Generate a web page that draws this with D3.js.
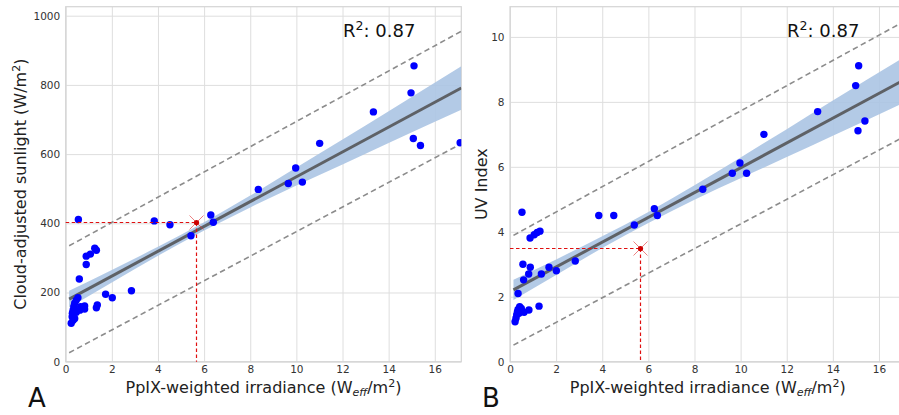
<!DOCTYPE html>
<html>
<head>
<meta charset="utf-8">
<script src="https://cdn.jsdelivr.net/npm/d3@7"></script>
<style>
  body { margin: 0; background: #fff; }
  svg { display: block; font-family: "DejaVu Sans", sans-serif; }
</style>
</head>
<body>
<div id="canvas"></div>
<script>
// values
const xTicks = [0, 2, 4, 6, 8, 10, 12, 14, 16]
const xMax = 17.15

// panel A: cloud-adjusted sunlight
const sunX = [0.24, 0.28, 0.29, 0.32, 0.32, 0.35, 0.39, 0.39, 0.46, 0.46, 0.53, 0.61, 0.65, 0.59, 0.55, 0.82, 0.82, 0.89, 0.89, 1.07, 1.26, 1.33, 1.37, 1.33, 1.73, 2.02, 2.85, 3.84, 4.52, 5.43, 6.29, 6.40, 8.35, 9.65, 9.97, 10.26, 11.01, 13.34, 14.97, 15.10, 15.07, 15.38, 17.10]
const sunY = [111, 130, 140, 120, 149, 159, 125, 169, 143, 178, 185, 149, 159, 239, 411, 161, 152, 305, 281, 311, 328, 322, 164, 156, 195, 185, 205, 407, 396, 364, 424, 403, 498, 515, 560, 519, 631, 722, 777, 855, 645, 625, 633]
const sunTicks = [0, 200, 400, 600, 800, 1000]
const sunFitX = [0.15, 17.15]
const sunFitY = [181, 791]
const sunPredHi = [335, 955]
const sunPredLo = [26, 630]
const bandX = [0.15, 2, 4, 6, 8, 10, 12, 14, 17.15]
const sunBandHi = [205, 265, 332, 403, 480, 561, 642, 724, 854]
const sunBandLo = [157, 229, 306, 379, 446, 509, 570, 632, 728]
const sunMark = [5.65, 405]

// panel B: UV index
const uvX = [0.22, 0.26, 0.29, 0.32, 0.35, 0.39, 0.42, 0.49, 0.61, 0.82, 1.26, 0.35, 0.59, 0.81, 0.88, 0.56, 1.36, 1.69, 2.01, 2.83, 0.52, 0.87, 1.05, 1.18, 1.30, 3.85, 4.50, 5.39, 6.26, 6.39, 8.36, 9.64, 9.97, 10.26, 11.01, 13.34, 14.99, 15.12, 15.09, 15.39]
const uvY = [1.23, 1.34, 1.44, 1.53, 1.61, 1.49, 1.69, 1.64, 1.52, 1.59, 1.71, 2.10, 2.52, 2.70, 2.91, 3.00, 2.70, 2.91, 2.80, 3.10, 4.60, 3.81, 3.91, 3.98, 4.02, 4.50, 4.50, 4.21, 4.71, 4.50, 5.31, 5.80, 6.12, 5.80, 7.00, 7.70, 8.50, 9.11, 7.11, 7.41]
const uvTicks = [0, 2, 4, 6, 8, 10]
const uvFitX = [0.15, 17.15]
const uvFitY = [2.21, 8.70]
const uvPredHi = [3.89, 10.5]
const uvPredLo = [0.51, 6.95]
const uvBandHi = [2.52, 3.15, 3.86, 4.61, 5.43, 6.29, 7.16, 8.04, 9.40]
const uvBandLo = [1.90, 2.67, 3.50, 4.27, 4.99, 5.65, 6.30, 6.96, 8.00]
const uvMark = [5.65, 3.5]

const width = 899
const height = 415
const plotTop = 6.7
const plotBottom = 361.7

let svg = d3.select('#canvas').append('svg')
  .attr('width', width)
  .attr('height', height)

svg.append('rect').attr('width', width).attr('height', height).attr('fill', '#fff')

let drawPanel = function (p) {
  const x = d3.scaleLinear().domain([0, xMax]).range([p.left, p.right])
  const y = d3.scaleLinear().domain([0, p.yMax]).range([plotBottom, plotTop])
  const g = svg.append('g')

  g.append('clipPath').attr('id', 'clip-' + p.id)
    .append('rect')
    .attr('x', p.left).attr('y', plotTop)
    .attr('width', p.right - p.left).attr('height', plotBottom - plotTop)

  // grid
  g.append('g')
    .attr('transform', `translate(0,${plotBottom})`)
    .call(d3.axisBottom(x).tickValues(xTicks).tickSize(-(plotBottom - plotTop)).tickFormat(''))
    .call(s => s.select('.domain').remove())
    .selectAll('line').attr('stroke', '#dedede').attr('stroke-width', 1)
  g.append('g')
    .attr('transform', `translate(${p.left},0)`)
    .call(d3.axisLeft(y).tickValues(p.yTicks).tickSize(-(p.right - p.left)).tickFormat(''))
    .call(s => s.select('.domain').remove())
    .selectAll('line').attr('stroke', '#dedede').attr('stroke-width', 1)

  // frame
  g.append('rect')
    .attr('x', p.left).attr('y', plotTop)
    .attr('width', p.right - p.left).attr('height', plotBottom - plotTop)
    .attr('fill', 'none').attr('stroke', '#d4d4d4').attr('stroke-width', 1.2)

  // tick labels
  g.append('g')
    .attr('transform', `translate(0,${plotBottom})`)
    .call(d3.axisBottom(x).tickValues(xTicks).tickSize(0).tickPadding(4).tickFormat(d3.format('d')))
    .call(s => s.select('.domain').remove())
    .selectAll('text').attr('font-size', '10.5px').attr('fill', '#333')
    .attr('font-family', '"DejaVu Sans", sans-serif')
  g.append('g')
    .attr('transform', `translate(${p.left},0)`)
    .call(d3.axisLeft(y).tickValues(p.yTicks).tickSize(0).tickPadding(5.5).tickFormat(d3.format('d')))
    .call(s => s.select('.domain').remove())
    .selectAll('text').attr('font-size', '10.5px').attr('fill', '#333')
    .attr('font-family', '"DejaVu Sans", sans-serif')

  const inner = g.append('g').attr('clip-path', `url(#clip-${p.id})`)

  // confidence band
  const band = bandX.map((d, i) => ({ x: d, lo: p.bandLo[i], hi: p.bandHi[i] }))
  inner.append('path')
    .datum(band)
    .attr('fill', '#abc4e3')
    .attr('opacity', 0.9)
    .attr('d', d3.area().curve(d3.curveMonotoneX)
      .x(d => x(d.x)).y0(d => y(d.lo)).y1(d => y(d.hi)))

  // prediction interval lines
  const line = d3.line().x(d => x(d[0])).y(d => y(d[1]))
  ;[p.predHi, p.predLo].forEach(v => {
    inner.append('path')
      .datum(p.fitX.map((d, i) => [d, v[i]]))
      .attr('fill', 'none')
      .attr('stroke', '#8c8c8c')
      .attr('stroke-width', 1.6)
      .attr('stroke-dasharray', '5.5,3.5')
      .attr('d', line)
  })

  // regression line
  inner.append('path')
    .datum(p.fitX.map((d, i) => [d, p.fitY[i]]))
    .attr('fill', 'none')
    .attr('stroke', '#5e6166')
    .attr('stroke-width', 3)
    .attr('d', line)

  // points
  inner.selectAll('circle.pt')
    .data(p.xs.map((d, i) => [d, p.ys[i]]))
    .join('circle')
    .attr('class', 'pt')
    .attr('cx', d => x(d[0]))
    .attr('cy', d => y(d[1]))
    .attr('r', 3.7)
    .attr('fill', '#0000ff')

  // red guide lines to the marked point
  const mx = Math.round(x(p.mark[0])) + 0.5
  const my = Math.round(y(p.mark[1])) + 0.5
  g.append('line')
    .attr('x1', x(0)).attr('x2', mx).attr('y1', my).attr('y2', my)
    .attr('stroke', '#e01010').attr('stroke-width', 1.2).attr('stroke-dasharray', '3.5,2.5')
  g.append('line')
    .attr('x1', mx).attr('x2', mx).attr('y1', my).attr('y2', y(0))
    .attr('stroke', '#e01010').attr('stroke-width', 1.2).attr('stroke-dasharray', '3.5,2.5')
  const s = 7
  g.append('path')
    .attr('d', `M${mx - s},${my - s}L${mx + s},${my + s}M${mx - s},${my + s}L${mx + s},${my - s}`)
    .attr('stroke', '#e03030').attr('stroke-width', 1).attr('opacity', 0.6)
  g.append('circle')
    .attr('cx', mx).attr('cy', my).attr('r', 2.6)
    .attr('fill', '#cc0000')

  // R squared
  const r2 = g.append('text')
    .attr('x', p.r2x).attr('y', 37)
    .attr('font-size', '18px').attr('fill', '#111')
  r2.append('tspan').text('R')
  r2.append('tspan').text('2').attr('font-size', '12.5px').attr('dy', -7)
  r2.append('tspan').text(': 0.87').attr('dy', 7)

  // x label
  const xl = g.append('text')
    .attr('x', (p.left + p.right) / 2).attr('y', 393)
    .attr('text-anchor', 'middle')
    .attr('font-size', '16px').attr('fill', '#222')
  xl.append('tspan').text('PpIX-weighted irradiance (W')
  xl.append('tspan').text('eff').attr('font-style', 'italic').attr('font-size', '11px').attr('dy', 3)
  xl.append('tspan').text('/m').attr('dy', -3)
  xl.append('tspan').text('2').attr('font-size', '11px').attr('dy', -6.5)
  xl.append('tspan').text(')').attr('dy', 6.5)

  // y label
  const yl = g.append('text')
    .attr('transform', `translate(${p.yLabelX},${(plotTop + plotBottom) / 2}) rotate(-90)`)
    .attr('text-anchor', 'middle')
    .attr('font-size', '16px').attr('fill', '#222')
  p.yLabel.forEach(part => {
    const t = yl.append('tspan').text(part.t)
    if (part.sup) t.attr('font-size', '11px').attr('dy', -6.5)
    if (part.down) t.attr('dy', 6.5)
  })

  // panel letter
  g.append('text')
    .attr('x', p.letterX).attr('y', 407)
    .attr('font-size', '26px').attr('fill', '#111')
    .text(p.letter)
}

drawPanel({
  id: 'a', left: 65.7, right: 461.3, yMax: 1026, yTicks: sunTicks,
  xs: sunX, ys: sunY, fitX: sunFitX, fitY: sunFitY,
  predHi: sunPredHi, predLo: sunPredLo, bandHi: sunBandHi, bandLo: sunBandLo,
  mark: sunMark, r2x: 343, yLabelX: 26, letterX: 28, letter: 'A',
  yLabel: [{ t: 'Cloud-adjusted sunlight (W/m' }, { t: '2', sup: true }, { t: ')', down: true }]
})

drawPanel({
  id: 'b', left: 510, right: 905.5, yMax: 10.93, yTicks: uvTicks,
  xs: uvX, ys: uvY, fitX: uvFitX, fitY: uvFitY,
  predHi: uvPredHi, predLo: uvPredLo, bandHi: uvBandHi, bandLo: uvBandLo,
  mark: uvMark, r2x: 787, yLabelX: 487, letterX: 482, letter: 'B',
  yLabel: [{ t: 'UV Index' }]
})
</script>
</body>
</html>
